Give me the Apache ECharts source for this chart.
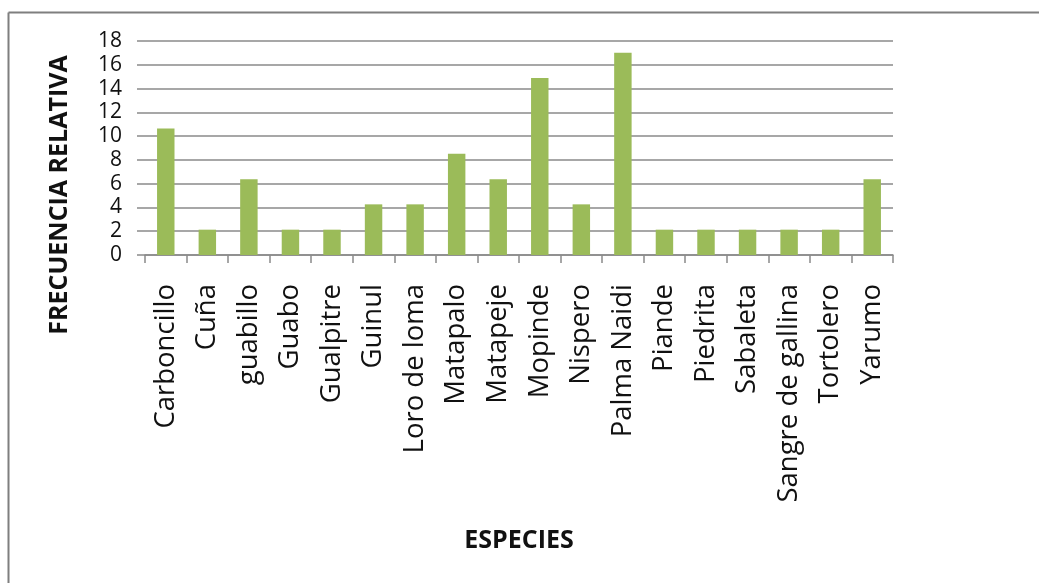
<!DOCTYPE html>
<html>
<head>
<meta charset="utf-8">
<script src="https://cdn.jsdelivr.net/npm/echarts@6/dist/echarts.min.js"></script>
<style>
  html, body { margin: 0; padding: 0; background: #ffffff; }
  #chart { width: 1039px; height: 583px; }
</style>
</head>
<body>
<div id="chart"></div>
<script>
// Species names along the category axis
const especies = [
  'Carboncillo', 'Cuña', 'guabillo', 'Guabo', 'Gualpitre', 'Guinul',
  'Loro de loma', 'Matapalo', 'Matapeje', 'Mopinde', 'Nispero',
  'Palma Naidi', 'Piande', 'Piedrita', 'Sabaleta', 'Sangre de gallina',
  'Tortolero', 'Yarumo'
];

// Relative frequency (%) of each species
const frecuenciaRelativa = [
  10.64, 2.13, 6.38, 2.13, 2.13, 4.26,
  4.26, 8.51, 6.38, 14.89, 4.26,
  17.02, 2.13, 2.13, 2.13, 2.13,
  2.13, 6.38
];

// Value axis settings
const yMin = 0;
const yMax = 18;
const yStep = 2;

const tituloY = 'FRECUENCIA RELATIVA';
const tituloX = 'ESPECIES';

const chart = echarts.init(document.getElementById('chart'), null, { renderer: 'canvas' });

chart.setOption({
  backgroundColor: '#ffffff',
  animation: false,
  grid: { left: 145, right: 146, top: 41, bottom: 328, containLabel: false },
  xAxis: {
    type: 'category',
    data: especies,
    boundaryGap: true,
    axisLine: { show: true, lineStyle: { color: '#8a8a8a', width: 1.5 } },
    axisTick: { show: true, length: 8, lineStyle: { color: '#8a8a8a', width: 1.5 } },
    axisLabel: {
      rotate: 90,
      margin: 29,
      interval: 0,
      color: '#111111',
      fontFamily: 'Open Sans',
      fontSize: 27.5
    }
  },
  yAxis: {
    type: 'value',
    min: yMin,
    max: yMax,
    interval: yStep,
    axisLine: { show: false },
    axisTick: { show: true, length: 8, lineStyle: { color: '#8a8a8a', width: 1.5 } },
    splitLine: { show: true, lineStyle: { color: '#8a8a8a', width: 1.5 } },
    axisLabel: {
      margin: 23,
      color: '#111111',
      fontFamily: 'Open Sans',
      fontSize: 21
    }
  },
  series: [{
    type: 'bar',
    data: frecuenciaRelativa,
    barWidth: '42%',
    itemStyle: { color: '#9bbb59' }
  }],
  graphic: [
    // chart frame (top and left edges)
    { type: 'line', shape: { x1: 8.5, y1: 12.5, x2: 1039, y2: 12.5 }, style: { stroke: '#7f7f7f', lineWidth: 2 } },
    { type: 'line', shape: { x1: 8.5, y1: 12.5, x2: 8.5, y2: 583 }, style: { stroke: '#7f7f7f', lineWidth: 2 } },
    {
      type: 'text', x: 60, y: 195, rotation: Math.PI / 2,
      style: {
        text: tituloY, fill: '#111111', font: 'bold 25px "Open Sans"',
        textAlign: 'center', textVerticalAlign: 'middle'
      }
    },
    {
      type: 'text', x: 519, y: 541,
      style: {
        text: tituloX, fill: '#111111', font: 'bold 25px "Open Sans"',
        textAlign: 'center', textVerticalAlign: 'middle'
      }
    }
  ]
});
</script>
</body>
</html>
